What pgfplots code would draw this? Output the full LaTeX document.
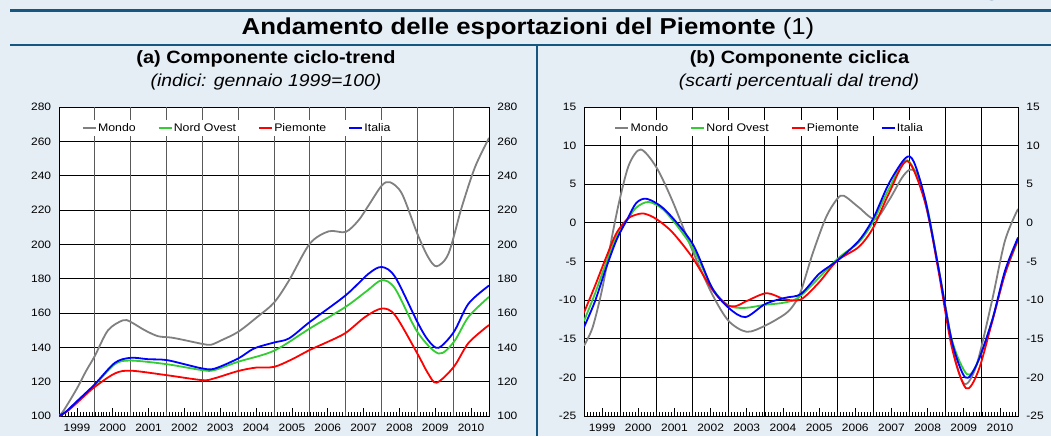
\documentclass[border=0pt]{standalone}
\usepackage{pgfplots}
\pgfplotsset{compat=1.18}
\usepackage{fontspec}
\setmainfont[FakeStretch=1.12]{Liberation Sans}

\definecolor{bgc}{RGB}{229,237,245}
\definecolor{sep}{RGB}{20,88,130}
\definecolor{cmondo}{RGB}{128,128,128}
\definecolor{cnord}{RGB}{51,204,51}
\definecolor{cpie}{RGB}{255,0,0}
\definecolor{cita}{RGB}{0,0,255}

% x = years elapsed since January 1999
\pgfplotsset{
  panel/.style={
    scale only axis, height=309pt,
    xmin=0, xmax=12,
    axis background/.style={fill=white},
    axis line style={black, line width=0.9pt},
    tick align=inside, xtick pos=left,
    xtick={0.5,1.5,2.5,3.5,4.5,5.5,6.5,7.5,8.5,9.5,10.5,11.5},
    xticklabels={1999,2000,2001,2002,2003,2004,2005,2006,2007,2008,2009,2010},
    minor xtick={0.0833333,0.1666667,...,11.95},
    major tick length=8pt, minor tick length=4pt,
    tick style={black, line width=0.6pt},
    ytick style={draw=none},
    ymajorgrids,
    major grid style={black, line width=0.9pt},
    extra x ticks={1,2,3,4,5,6,7,8,9,10,11},
    extra x tick labels={},
    tick label style={font=\fontsize{10.7}{12}\selectfont},
    yticklabel style={xshift=-4.3pt, /pgf/number format/assume math mode=true},
    xticklabel style={yshift=-4.5pt},
    legend columns=4,
    legend cell align=left,
    legend style={anchor=north west, draw=none, fill=white, inner xsep=3pt, inner ysep=1.5pt,
      font=\fontsize{11}{12}\selectfont, nodes={inner sep=1.5pt},
      /tikz/every even column/.append style={column sep=20.5pt}},
    legend image code/.code={\draw[#1, line width=1.6pt] (0pt,0pt) -- (13pt,0pt);},
  },
  rlabels/.style={
    scale only axis, height=309pt, xmin=0, xmax=12,
    hide x axis, axis y line*=right,
    axis line style={black, line width=0.9pt},
    ytick style={draw=none},
    tick label style={font=\fontsize{10.7}{12}\selectfont},
    yticklabel style={xshift=4.8pt, /pgf/number format/assume math mode=true},
  },
  ser/.style={smooth, tension=0.5, line width=1.8pt, no marks},
}

\begin{document}
\begin{tikzpicture}[x=1pt,y=1pt]
\useasboundingbox (0,0) rectangle (1051,436);
\fill[bgc] (0,0) rectangle (1051,436);
\draw[sep, line width=3pt] (10,425.5) -- (1051,425.5);
\draw[sep, line width=2.4pt] (10,391) -- (1051,391);
\draw[sep, line width=2pt] (537,391) -- (537,0);
\node[anchor=base, text=sep, font=\bfseries\fontsize{20}{22}\selectfont] at (992,439.5) {g};

\node[anchor=base, font=\bfseries\fontsize{23}{26}\selectfont] at (528,401.3) {Andamento delle esportazioni del Piemonte \mdseries(1)};
\node[anchor=base, font=\bfseries\fontsize{17.8}{20}\selectfont] at (266,372.5) {(a) Componente ciclo-trend};
\node[anchor=base, font=\itshape\fontsize{17.3}{20}\selectfont] at (266,349.5) {(indici: gennaio 1999=100)};
\node[anchor=base, font=\bfseries\fontsize{17.8}{20}\selectfont] at (799.5,372.5) {(b) Componente ciclica};
\node[anchor=base, font=\itshape\fontsize{17.3}{20}\selectfont] at (799,349.5) {(scarti percentuali dal trend)};

% (a) ciclo-trend
\begin{axis}[panel, width=430pt, at={(59pt,20pt)}, anchor=south west,
  ymin=100, ymax=280, ytick={100,120,140,160,180,200,220,240,260,280},
  extra x tick style={grid=major, major tick length=0pt, major grid style={black!65, line width=0.9pt}},
  legend style={at={(0.046,0.958)}}]
\addplot[ser, cmondo] coordinates {(0,100) (0.14,103.5) (0.5,116) (0.75,126) (1.0,135) (1.37,150)
 (1.79,155.8) (2.0,154.8) (2.39,150) (2.76,146.5) (3.13,145.7) (3.5,144.2) (4.0,142) (4.24,141.5)
 (4.52,144) (5.0,149) (5.54,157.8) (6.0,166) (6.42,179) (7.0,200.4) (7.53,207.6) (8.0,207.2)
 (8.36,214) (8.64,222.7) (9.01,234.3) (9.24,236.2) (9.57,229.5) (10.0,206.2) (10.3,192.6)
 (10.54,187.2) (10.87,194.6) (11.24,221.7) (11.61,245) (12.0,262)};
\addlegendentry{Mondo}
\addplot[ser, cnord] coordinates {(0,100) (0.2,102.5) (0.44,107) (0.7,112) (1.0,118) (1.56,130.2)
 (2.0,132.3) (3.0,130.2) (4.0,126.7) (4.33,126.7) (5.0,131.6) (6.0,138) (7.0,151) (8.0,163.6)
 (8.6,173) (9.01,179.1) (9.38,174.2) (10.0,149) (10.59,136.4) (11.02,143.2) (11.43,157.8) (12.0,169.4)};
\addlegendentry{Nord Ovest}
\addplot[ser, cpie] coordinates {(0,100) (0.2,102.3) (0.44,106.5) (0.7,111.5) (1.0,117) (1.56,124.8)
 (2.0,126.4) (3.0,123.8) (4.0,120.9) (4.33,121.9) (5.0,126.2) (5.5,128.2) (6.0,128.6) (6.5,133)
 (7.0,138.5) (7.5,143.2) (8.0,148.4) (8.55,157.8) (9.01,162.6) (9.38,158.7) (10.0,136.4) (10.3,124.8)
 (10.54,119.4) (11.02,128.7) (11.43,142.6) (12.0,153)};
\addlegendentry{Piemonte}
\addplot[ser, cita] coordinates {(0,100) (0.2,102.6) (0.44,107.4) (0.7,112.5) (1.0,118.5) (1.56,131)
 (2.0,133.9) (2.48,133.1) (3.0,132.6) (3.59,129.7) (4.0,127.7) (4.33,127.5) (5.0,133.5) (5.44,139.3)
 (6.0,142.8) (6.42,145.2) (7.0,154.8) (8.0,170.3) (8.64,182.9) (9.01,186.8) (9.38,181) (10.0,154.8)
 (10.3,144.2) (10.59,139.7) (11.02,149) (11.43,165.5) (12.0,176)};
\addlegendentry{Italia}
\end{axis}
\begin{axis}[rlabels, width=430pt, at={(59pt,20pt)}, anchor=south west,
  ymin=100, ymax=280, ytick={100,120,140,160,180,200,220,240,260,280}]
\addplot[draw=none] coordinates {(0,100) (12,280)};
\end{axis}

% (b) ciclica
\begin{axis}[panel, width=434pt, at={(584pt,20pt)}, anchor=south west,
  ymin=-25, ymax=15, ytick={-25,-20,-15,-10,-5,0,5,10,15},
  extra x tick style={grid=major, major tick length=0pt, major grid style={black, line width=0.9pt}},
  legend style={at={(0.063,0.958)}}]
\addplot[ser, cmondo] coordinates {(0,-15.9) (0.24,-13.5) (0.51,-8.4) (0.79,-1.4) (1.0,3.3) (1.25,7.6)
 (1.57,9.5) (2.0,7.2) (2.44,2.9) (3.0,-3.6) (3.54,-9.2) (4.0,-12.7) (4.5,-14.1) (5.01,-13.3)
 (5.56,-11.8) (5.8,-10.6) (6.0,-8.8) (6.32,-4.0) (6.69,0.7) (7.0,3.1) (7.19,3.5) (7.6,2.0)
 (8.05,0.5) (8.43,2.9) (8.8,5.9) (9.03,6.9) (9.26,5.9) (9.62,-1.4) (10.0,-11) (10.27,-17.9)
 (10.54,-20.9) (10.86,-18.3) (11.28,-10.1) (11.64,-2.3) (12.0,1.8)};
\addlegendentry{Mondo}
\addplot[ser, cnord] coordinates {(0,-12.7) (0.3,-9.2) (0.6,-5.3) (0.9,-1.8) (1.2,0.4) (1.45,2.0)
 (1.8,2.7) (2.26,1.4) (3.0,-3.2) (3.54,-8.4) (4.0,-10.7) (4.46,-11.0) (5.01,-10.6) (5.56,-10.3)
 (6.0,-9.4) (7.0,-4.7) (7.6,-2.5) (8.0,0.2) (8.43,4.4) (8.94,8.1) (9.44,2.9) (9.8,-5.8)
 (10.17,-15.1) (10.59,-19.6) (10.9,-17.9) (11.28,-12.7) (11.64,-6.6) (12.0,-2.3)};
\addlegendentry{Nord Ovest}
\addplot[ser, cpie] coordinates {(0,-11.6) (0.3,-8.2) (0.6,-4.6) (0.9,-1.3) (1.2,0.5) (1.4,1.0)
 (1.66,1.2) (2.0,0.5) (2.44,-1.2) (3.0,-4.5) (3.54,-8.6) (3.91,-10.5) (4.18,-10.8) (4.55,-10.0)
 (5.06,-9.1) (5.56,-9.9) (6.0,-9.9) (6.5,-7.7) (7.0,-4.9) (7.6,-3.1) (8.0,-0.6) (8.43,3.8)
 (8.94,8.0) (9.44,2.5) (9.8,-6.2) (10.17,-16.1) (10.56,-21.4) (10.9,-19.2) (11.28,-12.9)
 (11.64,-6.6) (12.0,-2.1)};
\addlegendentry{Piemonte}
\addplot[ser, cita] coordinates {(0,-13.5) (0.3,-10.2) (0.6,-6.0) (0.9,-2.2) (1.2,0.5) (1.45,2.6)
 (1.75,3.1) (2.26,1.6) (3.0,-2.7) (3.54,-8.4) (4.0,-11) (4.46,-12.2) (5.01,-10.5) (5.56,-9.7)
 (6.0,-9.2) (6.5,-6.6) (7.0,-4.9) (7.6,-2.3) (8.0,0.6) (8.43,5.1) (8.89,8.4) (9.12,7.9) (9.44,2.9)
 (9.8,-5.8) (10.17,-15.3) (10.54,-20) (10.86,-18.3) (11.28,-12.7) (11.64,-6.2) (12.0,-1.9)};
\addlegendentry{Italia}
\end{axis}
\begin{axis}[rlabels, width=434pt, at={(584pt,20pt)}, anchor=south west,
  ymin=-25, ymax=15, ytick={-25,-20,-15,-10,-5,0,5,10,15}]
\addplot[draw=none] coordinates {(0,-25) (12,15)};
\end{axis}
\end{tikzpicture}
\end{document}
